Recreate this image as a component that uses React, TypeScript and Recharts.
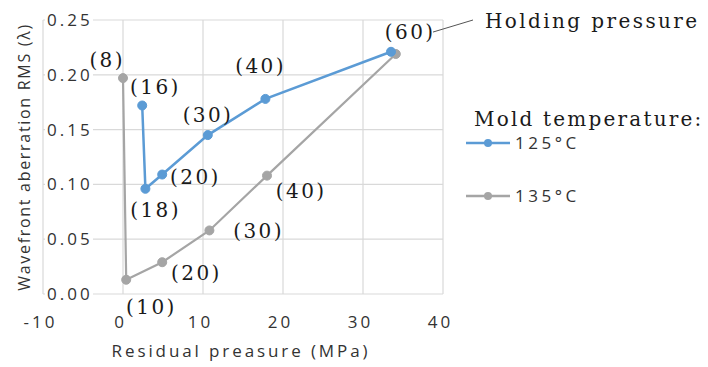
import React from 'react';
import { ComposedChart, Line, XAxis, YAxis, CartesianGrid, LabelList, ReferenceLine, Label } from 'recharts';

// ---- data ----
const xTicks = [-10, 0, 10, 20, 30, 40];
const yTicks = [0, 0.05, 0.1, 0.15, 0.2, 0.25];

const seriesNames = ['125\u00B0C', '135\u00B0C'];

const holding125 = [16, 18, 20, 30, 40, 60];
const pressure125 = [2.4, 2.8, 4.9, 10.6, 17.8, 33.5];
const rms125 = [0.172, 0.096, 0.109, 0.145, 0.178, 0.221];

const holding135 = [8, 10, 20, 30, 40, 60];
const pressure135 = [0.0, 0.4, 4.9, 10.8, 18.0, 34.1];
const rms135 = [0.197, 0.013, 0.029, 0.058, 0.108, 0.219];

const xTitle = 'Residual preasure (MPa)';
const yTitle = 'Wavefront aberration RMS (\u03BB)';
const annotation = 'Holding pressure';
const legendTitle = 'Mold temperature:';

const data125 = pressure125.map((x, i) => ({ x, y: rms125[i], h: holding125[i] }));
const data135 = pressure135.map((x, i) => ({ x, y: rms135[i], h: holding135[i] }));

// ---- styles / layout ----
const W = 708;
const H = 367;
const BLUE = '#5b9bd5';
const GRAY = '#a5a5a5';
const SANS = 'Open Sans, sans-serif';
const SERIF = 'DejaVu Serif, serif';
const SERIF_SIZE = 20;
const SERIF_LS = 2.4;
const SANS_LS = 3;
const TEXT = '#333333';
const SERIF_TEXT = '#1a1a1a';

// label offsets (pixels) relative to point, for each series
const off125: ([number, number] | null)[] = [[12, -18], [9, 22], [32, 3], [-1, -20], [-6, -32], [18, -19]];
const off135: ([number, number] | null)[] = [[-17, -18], [24, 28], [33, 11], [48, 1], [33, 16], null];

const makeLabel = (offs: ([number, number] | null)[]) => (p: any) => {
  const o = offs[p.index];
  if (!o) return null;
  return (
    <text
      x={p.x + o[0] + SERIF_LS / 2}
      y={p.y + o[1] + 6.5}
      textAnchor="middle"
      fontFamily={SERIF}
      fontSize={SERIF_SIZE}
      letterSpacing={SERIF_LS}
      fill={SERIF_TEXT}
    >
      {`(${p.value})`}
    </text>
  );
};

const YTick = (p: any) => {
  const { x, y, payload } = p;
  return (
    <g>
      <rect x={x + 2} y={y - 8} width={48} height={16} fill="#ffffff" />
      <text x={x + 4} y={y + 6} fontFamily={SANS} fontSize={17} fontWeight={500} letterSpacing={SANS_LS} fill={TEXT}>
        {Number(payload.value).toFixed(2)}
      </text>
    </g>
  );
};

const XTick = (p: any) => {
  const { x, y, payload } = p;
  return (
    <text x={x - 2.5} y={y + 34} textAnchor="middle" fontFamily={SANS} fontSize={17} fontWeight={500} letterSpacing={SANS_LS} fill={TEXT}>
      {payload.value}
    </text>
  );
};

const XTitle = () => (
  <text x={241} y={357} textAnchor="middle" fontFamily={SANS} fontSize={17} fontWeight={500} letterSpacing={2.9} fill={TEXT}>
    {xTitle}
  </text>
);

const YTitle = () => (
  <text
    transform="translate(29.5,157) rotate(-90)"
    x={0}
    y={0}
    textAnchor="middle"
    fontFamily={SANS}
    fontSize={16}
    fontWeight={500}
    letterSpacing={1.7}
    fill={TEXT}
  >
    {yTitle}
  </text>
);

export default function App() {
  return (
    <div style={{ position: 'absolute', left: 0, top: 0, width: W, height: H, background: '#fff' }}>
      <ComposedChart width={W} height={H} margin={{ top: 20, right: 265, bottom: 0, left: 0 }}>
        <CartesianGrid stroke="#d9d9d9" strokeWidth={1.2} />
        <XAxis
          type="number"
          dataKey="x"
          domain={[-10, 40]}
          ticks={xTicks}
          height={73}
          tickSize={0}
          tickMargin={0}
          axisLine={false}
          tickLine={false}
          tick={<XTick />}
          allowDataOverflow
        >
          <Label content={<XTitle />} />
        </XAxis>
        <YAxis
          type="number"
          domain={[0, 0.25]}
          ticks={yTicks}
          width={43}
          tickSize={0}
          tickMargin={0}
          axisLine={false}
          tickLine={false}
          tick={<YTick />}
          allowDataOverflow
        >
          <Label content={<YTitle />} />
        </YAxis>
        <ReferenceLine
          segment={[{ x: 38.75, y: 0.239 }, { x: 43.75, y: 0.25 }]}
          stroke="#555"
          strokeWidth={1}
          ifOverflow="visible"
        />
        <Line
          data={data135}
          dataKey="y"
          name={seriesNames[1]}
          type="linear"
          stroke={GRAY}
          strokeWidth={2.2}
          dot={{ r: 4.5, fill: GRAY, stroke: GRAY, strokeWidth: 1 }}
          isAnimationActive={false}
        >
          <LabelList dataKey="h" content={makeLabel(off135)} />
        </Line>
        <Line
          data={data125}
          dataKey="y"
          name={seriesNames[0]}
          type="linear"
          stroke={BLUE}
          strokeWidth={2.5}
          dot={{ r: 4.5, fill: BLUE, stroke: BLUE, strokeWidth: 1 }}
          isAnimationActive={false}
        >
          <LabelList dataKey="h" content={makeLabel(off125)} />
        </Line>
      </ComposedChart>
      <svg width={W} height={H} style={{ position: 'absolute', left: 0, top: 0, pointerEvents: 'none' }}>
        <text x={485} y={28} fontFamily={SERIF} fontSize={SERIF_SIZE} letterSpacing={2.4} fill={SERIF_TEXT}>
          {annotation}
        </text>
        <text x={474} y={126} fontFamily={SERIF} fontSize={SERIF_SIZE} letterSpacing={2.2} fill={SERIF_TEXT}>
          {legendTitle}
        </text>
        {[BLUE, GRAY].map((c, i) => {
          const cy = 143 + i * 53;
          return (
            <g key={i}>
              <line x1={466} x2={510} y1={cy} y2={cy} stroke={c} strokeWidth={2.5} />
              <circle cx={488} cy={cy} r={4} fill={c} />
              <text x={515} y={cy + 6} fontFamily={SANS} fontSize={17} fontWeight={500} letterSpacing={3.5} fill={TEXT}>
                {seriesNames[i]}
              </text>
            </g>
          );
        })}
      </svg>
    </div>
  );
}
